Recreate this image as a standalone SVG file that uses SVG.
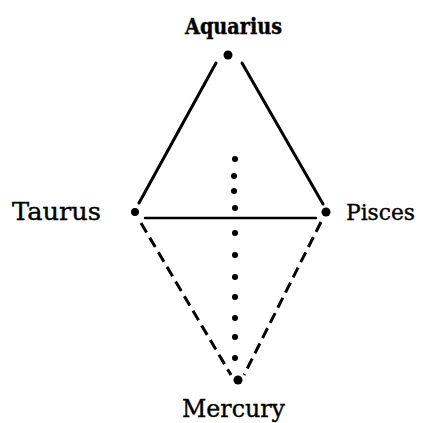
<svg xmlns="http://www.w3.org/2000/svg" width="422" height="423" viewBox="0 0 422 423">
<style>
.lbl{font-family:"DejaVu Serif","Liberation Serif",serif;font-size:25px;fill:#000;stroke:#000;stroke-width:0.4}
.solid{stroke:#000;stroke-width:3;fill:none;stroke-linecap:round}
.dash{stroke:#000;stroke-width:3;fill:none;stroke-dasharray:11 6}
.star{fill:#000}
.dot{fill:#000}
</style>
<rect width="422" height="423" fill="#fff"/>
<g id="connectors">
<line class="solid" x1="216" y1="63" x2="139" y2="203"/>
<line class="solid" x1="242" y1="63" x2="323" y2="204"/>
<line class="solid" x1="145" y1="218" x2="316" y2="218" style="stroke-width:2.5"/>
<line class="dash" x1="141" y1="223" x2="231" y2="375"/>
<line class="dash" x1="321" y1="222" x2="244" y2="375"/>
<g id="dotted">
<circle class="dot" cx="235" cy="159" r="3"/>
<circle class="dot" cx="234" cy="176" r="3"/>
<circle class="dot" cx="234" cy="191" r="3"/>
<circle class="dot" cx="235" cy="208" r="3"/>
<circle class="dot" cx="235" cy="233" r="3"/>
<circle class="dot" cx="235" cy="255" r="3"/>
<circle class="dot" cx="235" cy="277" r="3"/>
<circle class="dot" cx="235" cy="297" r="3"/>
<circle class="dot" cx="235" cy="318" r="3"/>
<circle class="dot" cx="235" cy="337" r="3"/>
<circle class="dot" cx="235" cy="358" r="3"/>
</g>
</g>
<g id="aquarius">
<circle class="star" cx="228" cy="55" r="4.5"/>
<text class="lbl" x="185" y="34" style="font-weight:bold;font-size:22px" textLength="97" lengthAdjust="spacingAndGlyphs">Aquarius</text>
</g>
<g id="taurus">
<circle class="star" cx="135" cy="212" r="4"/>
<text class="lbl" x="12" y="220" textLength="89" lengthAdjust="spacingAndGlyphs">Taurus</text>
</g>
<g id="pisces">
<circle class="star" cx="326" cy="212" r="4.5"/>
<text class="lbl" x="346" y="220" style="font-size:22.5px" textLength="69" lengthAdjust="spacingAndGlyphs">Pisces</text>
</g>
<g id="mercury">
<circle class="star" cx="238" cy="380" r="4.5"/>
<text class="lbl" x="182" y="417" textLength="103" lengthAdjust="spacingAndGlyphs">Mercury</text>
</g>
</svg>
